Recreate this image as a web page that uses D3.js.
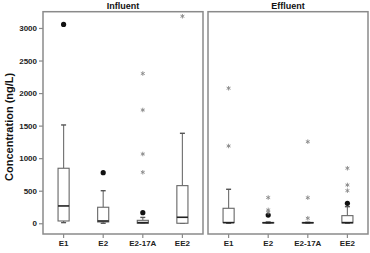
<!DOCTYPE html>
<html>
<head>
<meta charset="utf-8">
<script src="https://cdn.jsdelivr.net/npm/d3@7"></script>
<style>
  html, body { margin: 0; padding: 0; background: #fff; }
  text { font-family: "Liberation Sans", Arial, sans-serif; }
</style>
</head>
<body>
<div id="chart"></div>
<script>
// Chart data
const panels = ["Influent", "Effluent"];
const categories = ["E1", "E2", "E2-17A", "EE2"];
const yTicks = [0, 500, 1000, 1500, 2000, 2500, 3000];

// [lower whisker, Q1, median, Q3, upper whisker]
const influentBoxes = [
  [10, 35, 266, 845, 1510],
  [0, 20, 35, 246, 500],
  [0, 0, 10, 45, 90],
  [0, 0, 92, 578, 1382]
];
const effluentBoxes = [
  [0, 10, 10, 230, 522],
  [0, 5, 8, 12, 20],
  [0, 5, 8, 12, 15],
  [0, 5, 10, 117, 255]
];
// outliers as [category, value]
const influentDots = [["E1", 3055], ["E2", 777], ["E2-17A", 163]];
const influentStars = [["E2-17A", 2300], ["E2-17A", 1740], ["E2-17A", 1064], ["E2-17A", 783], ["EE2", 3180]];
const effluentDots = [["E2", 125], ["EE2", 307]];
const effluentStars = [["E1", 2074], ["E1", 1187], ["E2", 395], ["E2", 205], ["E2", 168],
  ["E2-17A", 1253], ["E2-17A", 393], ["E2-17A", 77], ["EE2", 845], ["EE2", 588], ["EE2", 501]];

const W = 370, H = 253;
const panelX = [[43, 203], [208, 368]];
const TOP = 11.7, BOTTOM = 234;
const FRAME = "#8a8a8a";

const svg = d3.select("#chart").append("svg")
  .attr("width", W).attr("height", H);

const y = d3.scaleLinear().domain([-165, 3250]).range([BOTTOM, TOP]);

// y axis (left panel only)
const yAxis = svg.append("g")
  .attr("transform", `translate(${panelX[0][0]},0)`)
  .call(d3.axisLeft(y).tickValues(yTicks).tickFormat(d3.format("d")).tickSize(4).tickPadding(2));
yAxis.select(".domain").remove();
yAxis.selectAll(".tick line").attr("stroke", FRAME).attr("stroke-width", 1.2);
yAxis.selectAll(".tick text")
  .attr("fill", "#222").style("font-size", "8px").style("font-weight", "bold");

svg.append("text")
  .attr("transform", `translate(9,${(TOP + BOTTOM) / 2 + 4}) rotate(-90)`)
  .attr("text-anchor", "middle")
  .attr("dominant-baseline", "central")
  .style("font-size", "11px").style("font-weight", "bold").attr("fill", "#111")
  .text("Concentration (ng/L)");

const data = [
  { boxes: influentBoxes, dots: influentDots, stars: influentStars },
  { boxes: effluentBoxes, dots: effluentDots, stars: effluentStars }
];

const star = d3.symbol().type(d3.symbolAsterisk).size(14);

panels.forEach((name, i) => {
  const [x0, x1] = panelX[i];
  const x = d3.scaleBand().domain(categories).range([x0, x1]).paddingInner(0.72).paddingOuter(0.38);
  const cx = (c) => x(c) + x.bandwidth() / 2;
  const bw = x.bandwidth();
  const d = data[i];
  const g = svg.append("g");

  // frame
  g.append("rect")
    .attr("x", x0).attr("y", TOP)
    .attr("width", x1 - x0).attr("height", BOTTOM - TOP)
    .attr("fill", "none").attr("stroke", FRAME).attr("stroke-width", 1.5);

  // title
  g.append("text")
    .attr("x", (x0 + x1) / 2).attr("y", 8.5)
    .attr("text-anchor", "middle")
    .style("font-size", "9px").style("font-weight", "bold").attr("fill", "#111")
    .text(name);

  // x axis
  const xAxis = g.append("g")
    .attr("transform", `translate(0,${BOTTOM})`)
    .call(d3.axisBottom(x).tickSize(4).tickPadding(2));
  xAxis.select(".domain").remove();
  xAxis.selectAll(".tick line").attr("stroke", FRAME).attr("stroke-width", 1.2);
  xAxis.selectAll(".tick text")
    .attr("fill", "#222").style("font-size", "8px").style("font-weight", "bold");

  // boxes
  const b = g.selectAll(".box").data(d.boxes.map((s, k) => ({ c: categories[k], s })))
    .join("g").attr("class", "box");
  b.append("line")
    .attr("x1", (e) => cx(e.c)).attr("x2", (e) => cx(e.c))
    .attr("y1", (e) => y(e.s[3])).attr("y2", (e) => y(e.s[4]))
    .attr("stroke", "#777").attr("stroke-width", 1.2);
  b.append("line")
    .attr("x1", (e) => cx(e.c)).attr("x2", (e) => cx(e.c))
    .attr("y1", (e) => y(e.s[0])).attr("y2", (e) => y(e.s[1]))
    .attr("stroke", "#777").attr("stroke-width", 1.2);
  [0, 4].forEach((j) => {
    b.append("line")
      .attr("x1", (e) => cx(e.c) - 2.5).attr("x2", (e) => cx(e.c) + 2.5)
      .attr("y1", (e) => y(e.s[j])).attr("y2", (e) => y(e.s[j]))
      .attr("stroke", "#555").attr("stroke-width", 1.4);
  });
  b.append("rect")
    .attr("x", (e) => x(e.c)).attr("width", bw)
    .attr("y", (e) => y(e.s[3]))
    .attr("height", (e) => Math.max(0.5, y(e.s[1]) - y(e.s[3])))
    .attr("fill", "#fff").attr("stroke", "#666").attr("stroke-width", 1.1);
  b.append("line")
    .attr("x1", (e) => x(e.c)).attr("x2", (e) => x(e.c) + bw)
    .attr("y1", (e) => y(e.s[2])).attr("y2", (e) => y(e.s[2]))
    .attr("stroke", "#222").attr("stroke-width", 1.6);

  // outliers
  g.selectAll(".dot").data(d.dots).join("circle")
    .attr("cx", (e) => cx(e[0])).attr("cy", (e) => y(e[1]))
    .attr("r", 2.6).attr("fill", "#111");
  g.selectAll(".star").data(d.stars).join("path")
    .attr("transform", (e) => `translate(${cx(e[0])},${y(e[1])})`)
    .attr("d", star)
    .attr("fill", "none").attr("stroke", "#888").attr("stroke-width", 0.9);
});
</script>
</body>
</html>
